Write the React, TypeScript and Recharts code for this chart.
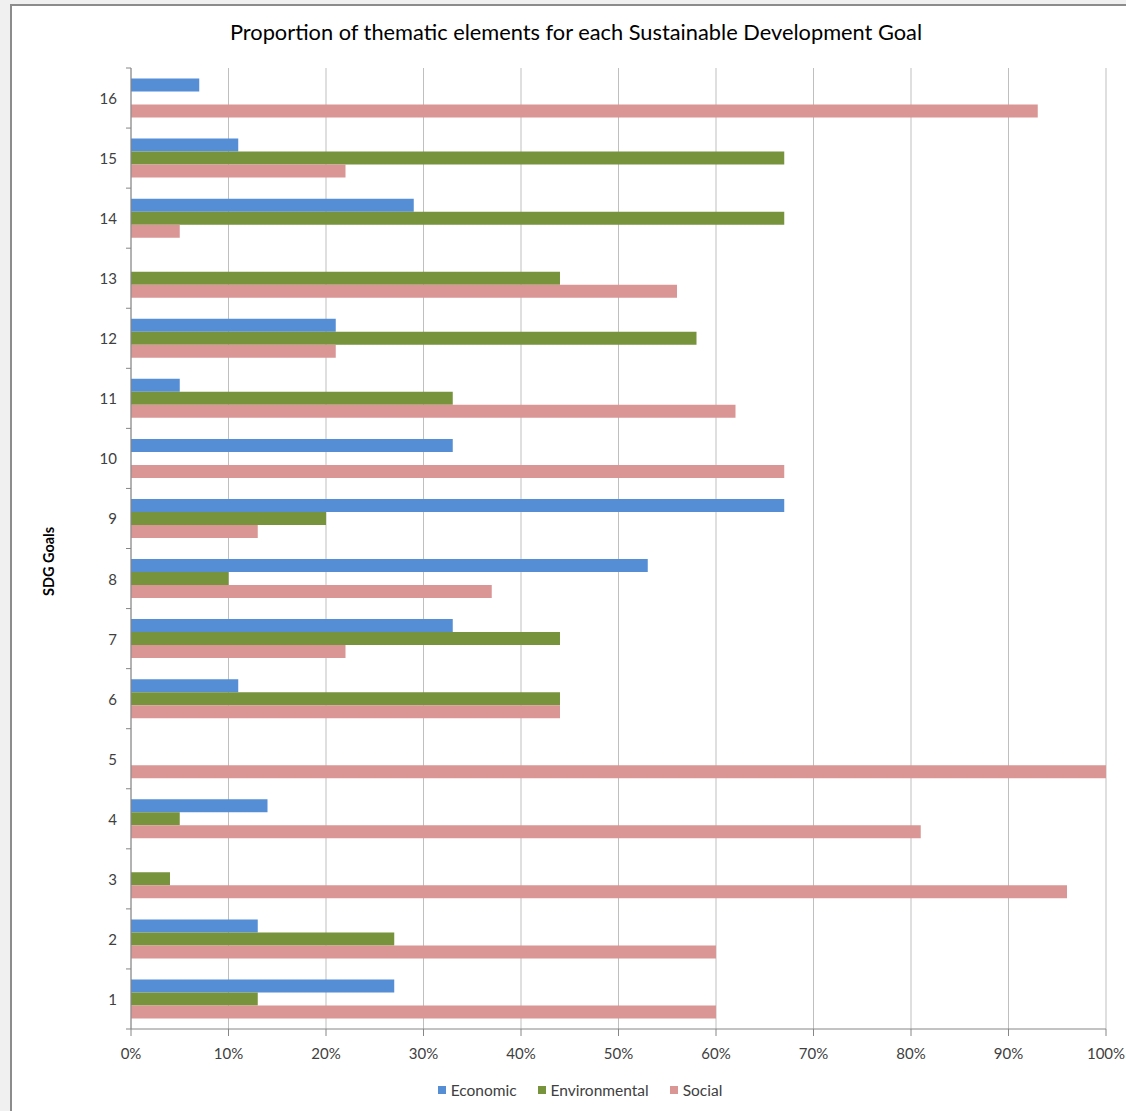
import React from 'react';
import { BarChart, Bar, XAxis, YAxis, CartesianGrid, Legend } from 'recharts';

// SDG goals, listed top to bottom as they appear in the chart
const goals = ['16', '15', '14', '13', '12', '11', '10', '9', '8', '7', '6', '5', '4', '3', '2', '1'];
const economic = [7, 11, 29, 0, 21, 5, 33, 67, 53, 33, 11, 0, 14, 0, 13, 27];
const environmental = [0, 67, 67, 44, 58, 33, 0, 20, 10, 44, 44, 0, 5, 4, 27, 13];
const social = [93, 22, 5, 56, 21, 62, 67, 13, 37, 22, 44, 100, 81, 96, 60, 60];
const percentTicks = [0, 10, 20, 30, 40, 50, 60, 70, 80, 90, 100];

const seriesInfo = [
  { key: 'economic', name: 'Economic', color: '#558ED5' },
  { key: 'environmental', name: 'Environmental', color: '#77933C' },
  { key: 'social', name: 'Social', color: '#D99694' },
];

const chartData = goals.map((goal, i) => ({
  goal,
  economic: economic[i],
  environmental: environmental[i],
  social: social[i],
}));

const FONT = 'Lato, "Open Sans", sans-serif';
const AXIS_GRAY = '#868686';
const TEXT_COLOR = '#404040';

// Excel-style category ticks: label in the middle, tick marks on band edges
const GoalTick = (props: any) => {
  const { x, y, payload, index } = props;
  const half = payload?.offset ?? 0;
  const axisX = x + 14;
  return (
    <g>
      <text
        x={x}
        y={y}
        textAnchor="end"
        dominantBaseline="central"
        fontSize={15}
        fontFamily={FONT}
        fill={TEXT_COLOR}
      >
        {payload.value}
      </text>
      <line x1={axisX - 5} x2={axisX} y1={y - half} y2={y - half} stroke={AXIS_GRAY} />
      {index === goals.length - 1 && (
        <line x1={axisX - 5} x2={axisX} y1={y + half} y2={y + half} stroke={AXIS_GRAY} />
      )}
    </g>
  );
};

const YLabel = ({ viewBox }: any) => {
  const cx = viewBox.x - 3;
  const cy = viewBox.y + viewBox.height / 2 + 13;
  return (
    <text
      x={cx}
      y={cy}
      transform={`rotate(-90, ${cx}, ${cy})`}
      textAnchor="middle"
      dominantBaseline="central"
      fontSize={14.5}
      fontWeight="bold"
      fontFamily={FONT}
      fill="#000"
    >
      SDG Goals
    </text>
  );
};

const LegendContent = () => (
  <div
    style={{
      display: 'flex',
      justifyContent: 'center',
      alignItems: 'center',
      gap: 21,
      fontFamily: FONT,
      fontSize: 15.5,
      color: TEXT_COLOR,
    }}
  >
    {seriesInfo.map((s) => (
      <div key={s.key} style={{ display: 'flex', alignItems: 'center', gap: 5 }}>
        <span style={{ width: 8, height: 8, background: s.color, display: 'inline-block' }} />
        <span>{s.name}</span>
      </div>
    ))}
  </div>
);

export default function App() {
  return (
    <div
      style={{
        position: 'absolute',
        left: 0,
        top: 0,
        width: 1126,
        height: 1111,
        background: '#f0f0f0',
        overflow: 'hidden',
      }}
    >
      {/* chart frame */}
      <div
        style={{
          position: 'absolute',
          left: 10,
          top: 4,
          width: 1132,
          height: 1120,
          background: '#fff',
          border: '2px solid #8c8c8c',
          boxSizing: 'border-box',
        }}
      />
      <div
        style={{
          position: 'absolute',
          left: 0,
          width: 1152,
          top: 19,
          textAlign: 'center',
          fontFamily: FONT,
          fontSize: 21.8,
          color: '#000',
          lineHeight: '26px',
        }}
      >
        Proportion of thematic elements for each Sustainable Development Goal
      </div>
      <div style={{ position: 'absolute', left: 0, top: 0 }}>
        <BarChart
          width={1126}
          height={1111}
          data={chartData}
          layout="vertical"
          margin={{ top: 68, right: 20, bottom: 42, left: 51 }}
          barCategoryGap="17.5%"
          barGap={0}
        >
          <CartesianGrid horizontal={false} stroke="#bfbfbf" strokeWidth={1} />
          <XAxis
            type="number"
            domain={[0, 100]}
            ticks={percentTicks}
            tickFormatter={(v) => `${v}%`}
            interval={0}
            height={40}
            axisLine={{ stroke: AXIS_GRAY }}
            tickLine={{ stroke: AXIS_GRAY }}
            tickSize={7}
            tickMargin={12}
            tick={{ fontSize: 15, fontFamily: FONT, fill: TEXT_COLOR }}
          />
          <YAxis
            type="category"
            dataKey="goal"
            width={80}
            interval={0}
            axisLine={{ stroke: AXIS_GRAY }}
            tickLine={false}
            tickSize={0}
            tickMargin={14}
            tick={<GoalTick />}
            label={<YLabel />}
          />
          <Legend
            layout="vertical"
            align="center"
            verticalAlign="middle"
            content={<LegendContent />}
            wrapperStyle={{ left: 0, top: 1081, width: 1160, height: 20 }}
          />
          {seriesInfo.map((s) => (
            <Bar
              key={s.key}
              dataKey={s.key}
              name={s.name}
              fill={s.color}
              isAnimationActive={false}
            />
          ))}
        </BarChart>
      </div>
    </div>
  );
}
